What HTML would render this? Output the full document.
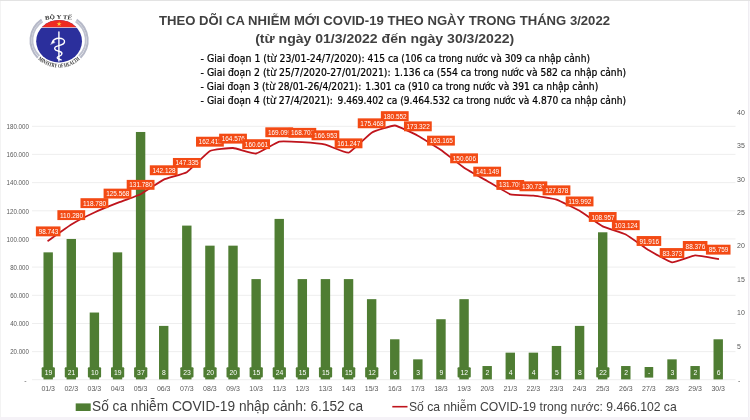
<!DOCTYPE html>
<html lang="vi"><head><meta charset="utf-8"><title>COVID-19 3/2022</title>
<style>html,body{margin:0;padding:0;background:#fff}svg{display:block}</style></head><body>
<svg width="750" height="420" viewBox="0 0 750 420">
<rect width="750" height="420" fill="#ffffff"/>
<rect x="0" y="0" width="750" height="1" fill="#e3e3e3"/>
<rect x="0" y="1" width="1" height="416" fill="#f3f3f3"/>
<rect x="0" y="417" width="750" height="3" fill="#f5f2f7"/>
<rect x="748" y="1" width="1" height="416" fill="#efedf2"/>
<rect x="749" y="1" width="1" height="416" fill="#f8f7fa"/>
<g stroke="#ececec" stroke-width="0.9">
<line x1="32" x2="735.5" y1="379.7" y2="379.7"/>
<line x1="32" x2="735.5" y1="351.6" y2="351.6"/>
<line x1="32" x2="735.5" y1="323.5" y2="323.5"/>
<line x1="32" x2="735.5" y1="295.3" y2="295.3"/>
<line x1="32" x2="735.5" y1="267.1" y2="267.1"/>
<line x1="32" x2="735.5" y1="238.9" y2="238.9"/>
<line x1="32" x2="735.5" y1="210.8" y2="210.8"/>
<line x1="32" x2="735.5" y1="182.6" y2="182.6"/>
<line x1="32" x2="735.5" y1="154.4" y2="154.4"/>
<line x1="32" x2="735.5" y1="126.3" y2="126.3"/>
</g>
<g font-family="'Liberation Sans', sans-serif" font-size="7" fill="#595959" text-anchor="end">
<text x="28.9" y="354.3" textLength="18.7" lengthAdjust="spacingAndGlyphs">20.000</text>
<text x="28.9" y="326.2" textLength="18.7" lengthAdjust="spacingAndGlyphs">40.000</text>
<text x="28.9" y="298.0" textLength="18.7" lengthAdjust="spacingAndGlyphs">60.000</text>
<text x="28.9" y="269.8" textLength="18.7" lengthAdjust="spacingAndGlyphs">80.000</text>
<text x="28.9" y="241.6" textLength="22.3" lengthAdjust="spacingAndGlyphs">100.000</text>
<text x="28.9" y="213.5" textLength="22.3" lengthAdjust="spacingAndGlyphs">120.000</text>
<text x="28.9" y="185.3" textLength="22.3" lengthAdjust="spacingAndGlyphs">140.000</text>
<text x="28.9" y="157.1" textLength="22.3" lengthAdjust="spacingAndGlyphs">160.000</text>
<text x="28.9" y="129.0" textLength="22.3" lengthAdjust="spacingAndGlyphs">180.000</text>
<text x="26.5" y="382.8">-</text>
</g>
<g font-family="'Liberation Sans', sans-serif" font-size="7" fill="#595959" text-anchor="start">
<text x="737.1" y="348.8">5</text>
<text x="737.1" y="315.3">10</text>
<text x="737.1" y="281.9">15</text>
<text x="737.1" y="248.4">20</text>
<text x="737.1" y="215.0">25</text>
<text x="737.1" y="181.6">30</text>
<text x="737.1" y="148.1">35</text>
<text x="737.1" y="114.7">40</text>
<text x="738" y="382.8">-</text>
</g>
<g fill="#4f7d33">
<rect x="43.48" y="252.35" width="9.4" height="127.05"/>
<rect x="66.58" y="238.97" width="9.4" height="140.43"/>
<rect x="89.69" y="312.53" width="9.4" height="66.87"/>
<rect x="112.80" y="252.35" width="9.4" height="127.05"/>
<rect x="135.90" y="131.98" width="9.4" height="247.42"/>
<rect x="159.01" y="325.90" width="9.4" height="53.50"/>
<rect x="182.11" y="225.60" width="9.4" height="153.80"/>
<rect x="205.22" y="245.66" width="9.4" height="133.74"/>
<rect x="228.32" y="245.66" width="9.4" height="133.74"/>
<rect x="251.43" y="279.09" width="9.4" height="100.31"/>
<rect x="274.53" y="218.91" width="9.4" height="160.49"/>
<rect x="297.63" y="279.09" width="9.4" height="100.31"/>
<rect x="320.74" y="279.09" width="9.4" height="100.31"/>
<rect x="343.85" y="279.09" width="9.4" height="100.31"/>
<rect x="366.95" y="299.16" width="9.4" height="80.24"/>
<rect x="390.06" y="339.28" width="9.4" height="40.12"/>
<rect x="413.16" y="359.34" width="9.4" height="20.06"/>
<rect x="436.27" y="319.22" width="9.4" height="60.18"/>
<rect x="459.37" y="299.16" width="9.4" height="80.24"/>
<rect x="482.48" y="366.03" width="9.4" height="13.37"/>
<rect x="505.58" y="352.65" width="9.4" height="26.75"/>
<rect x="528.68" y="352.65" width="9.4" height="26.75"/>
<rect x="551.79" y="345.96" width="9.4" height="33.44"/>
<rect x="574.89" y="325.90" width="9.4" height="53.50"/>
<rect x="598.00" y="232.29" width="9.4" height="147.11"/>
<rect x="621.10" y="366.03" width="9.4" height="13.37"/>
<rect x="667.31" y="359.34" width="9.4" height="20.06"/>
<rect x="690.42" y="366.03" width="9.4" height="13.37"/>
<rect x="713.52" y="339.28" width="9.4" height="40.12"/>
</g>
<g font-family="'Liberation Sans', sans-serif" font-size="6.8" fill="#ffffff" text-anchor="middle">
<rect x="41.68" y="367.2" width="13.2" height="10.3" rx="1" fill="#4f7d33"/>
<text x="48.48" y="375.1">19</text>
<rect x="64.78" y="367.2" width="13.2" height="10.3" rx="1" fill="#4f7d33"/>
<text x="71.58" y="375.1">21</text>
<rect x="87.89" y="367.2" width="13.2" height="10.3" rx="1" fill="#4f7d33"/>
<text x="94.69" y="375.1">10</text>
<rect x="111.00" y="367.2" width="13.2" height="10.3" rx="1" fill="#4f7d33"/>
<text x="117.80" y="375.1">19</text>
<rect x="134.10" y="367.2" width="13.2" height="10.3" rx="1" fill="#4f7d33"/>
<text x="140.90" y="375.1">37</text>
<text x="164.01" y="375.1">8</text>
<rect x="180.31" y="367.2" width="13.2" height="10.3" rx="1" fill="#4f7d33"/>
<text x="187.11" y="375.1">23</text>
<rect x="203.42" y="367.2" width="13.2" height="10.3" rx="1" fill="#4f7d33"/>
<text x="210.22" y="375.1">20</text>
<rect x="226.52" y="367.2" width="13.2" height="10.3" rx="1" fill="#4f7d33"/>
<text x="233.32" y="375.1">20</text>
<rect x="249.62" y="367.2" width="13.2" height="10.3" rx="1" fill="#4f7d33"/>
<text x="256.43" y="375.1">15</text>
<rect x="272.73" y="367.2" width="13.2" height="10.3" rx="1" fill="#4f7d33"/>
<text x="279.53" y="375.1">24</text>
<rect x="295.83" y="367.2" width="13.2" height="10.3" rx="1" fill="#4f7d33"/>
<text x="302.63" y="375.1">15</text>
<rect x="318.94" y="367.2" width="13.2" height="10.3" rx="1" fill="#4f7d33"/>
<text x="325.74" y="375.1">15</text>
<rect x="342.05" y="367.2" width="13.2" height="10.3" rx="1" fill="#4f7d33"/>
<text x="348.85" y="375.1">15</text>
<rect x="365.15" y="367.2" width="13.2" height="10.3" rx="1" fill="#4f7d33"/>
<text x="371.95" y="375.1">12</text>
<text x="395.06" y="375.1">6</text>
<text x="418.16" y="375.1">3</text>
<text x="441.27" y="375.1">9</text>
<rect x="457.57" y="367.2" width="13.2" height="10.3" rx="1" fill="#4f7d33"/>
<text x="464.37" y="375.1">12</text>
<text x="487.48" y="375.1">2</text>
<text x="510.58" y="375.1">4</text>
<text x="533.68" y="375.1">4</text>
<text x="556.79" y="375.1">5</text>
<text x="579.89" y="375.1">8</text>
<rect x="596.20" y="367.2" width="13.2" height="10.3" rx="1" fill="#4f7d33"/>
<text x="603.00" y="375.1">22</text>
<text x="626.10" y="375.1">2</text>
<rect x="644.61" y="367" width="8.6" height="10.6" fill="#4f7d33"/>
<text x="649.21" y="375.1">-</text>
<text x="672.31" y="375.1">3</text>
<text x="695.42" y="375.1">2</text>
<text x="718.52" y="375.1">6</text>
</g>
<g font-family="'Liberation Sans', sans-serif" font-size="7" fill="#595959" text-anchor="middle">
<text x="48.18" y="390.9" textLength="13.6" lengthAdjust="spacingAndGlyphs">01/3</text>
<text x="71.28" y="390.9" textLength="13.6" lengthAdjust="spacingAndGlyphs">02/3</text>
<text x="94.39" y="390.9" textLength="13.6" lengthAdjust="spacingAndGlyphs">03/3</text>
<text x="117.50" y="390.9" textLength="13.6" lengthAdjust="spacingAndGlyphs">04/3</text>
<text x="140.60" y="390.9" textLength="13.6" lengthAdjust="spacingAndGlyphs">05/3</text>
<text x="163.71" y="390.9" textLength="13.6" lengthAdjust="spacingAndGlyphs">06/3</text>
<text x="186.81" y="390.9" textLength="13.6" lengthAdjust="spacingAndGlyphs">07/3</text>
<text x="209.92" y="390.9" textLength="13.6" lengthAdjust="spacingAndGlyphs">08/3</text>
<text x="233.02" y="390.9" textLength="13.6" lengthAdjust="spacingAndGlyphs">09/3</text>
<text x="256.12" y="390.9" textLength="13.6" lengthAdjust="spacingAndGlyphs">10/3</text>
<text x="279.23" y="390.9" textLength="13.6" lengthAdjust="spacingAndGlyphs">11/3</text>
<text x="302.33" y="390.9" textLength="13.6" lengthAdjust="spacingAndGlyphs">12/3</text>
<text x="325.44" y="390.9" textLength="13.6" lengthAdjust="spacingAndGlyphs">13/3</text>
<text x="348.55" y="390.9" textLength="13.6" lengthAdjust="spacingAndGlyphs">14/3</text>
<text x="371.65" y="390.9" textLength="13.6" lengthAdjust="spacingAndGlyphs">15/3</text>
<text x="394.75" y="390.9" textLength="13.6" lengthAdjust="spacingAndGlyphs">16/3</text>
<text x="417.86" y="390.9" textLength="13.6" lengthAdjust="spacingAndGlyphs">17/3</text>
<text x="440.97" y="390.9" textLength="13.6" lengthAdjust="spacingAndGlyphs">18/3</text>
<text x="464.07" y="390.9" textLength="13.6" lengthAdjust="spacingAndGlyphs">19/3</text>
<text x="487.18" y="390.9" textLength="13.6" lengthAdjust="spacingAndGlyphs">20/3</text>
<text x="510.28" y="390.9" textLength="13.6" lengthAdjust="spacingAndGlyphs">21/3</text>
<text x="533.38" y="390.9" textLength="13.6" lengthAdjust="spacingAndGlyphs">22/3</text>
<text x="556.49" y="390.9" textLength="13.6" lengthAdjust="spacingAndGlyphs">23/3</text>
<text x="579.59" y="390.9" textLength="13.6" lengthAdjust="spacingAndGlyphs">24/3</text>
<text x="602.70" y="390.9" textLength="13.6" lengthAdjust="spacingAndGlyphs">25/3</text>
<text x="625.80" y="390.9" textLength="13.6" lengthAdjust="spacingAndGlyphs">26/3</text>
<text x="648.91" y="390.9" textLength="13.6" lengthAdjust="spacingAndGlyphs">27/3</text>
<text x="672.01" y="390.9" textLength="13.6" lengthAdjust="spacingAndGlyphs">28/3</text>
<text x="695.12" y="390.9" textLength="13.6" lengthAdjust="spacingAndGlyphs">29/3</text>
<text x="718.22" y="390.9" textLength="13.6" lengthAdjust="spacingAndGlyphs">30/3</text>
</g>
<path d="M48.18,240.72 C49.45,239.83 68.74,226.02 71.28,224.47 C73.83,222.92 91.85,213.68 94.39,212.50 C96.93,211.31 114.95,203.94 117.50,202.94 C120.04,201.93 138.06,195.47 140.60,194.19 C143.14,192.91 161.16,180.82 163.71,179.61 C166.25,178.41 184.27,173.85 186.81,172.28 C189.35,170.71 207.37,152.38 209.92,151.04 C212.46,149.71 230.48,147.86 233.02,147.99 C235.56,148.13 253.58,153.86 256.12,153.51 C258.67,153.16 276.69,142.25 279.23,141.62 C281.77,141.00 299.79,142.02 302.33,142.18 C304.88,142.35 322.90,144.07 325.44,144.65 C327.98,145.22 346.00,153.34 348.55,152.68 C351.09,152.02 369.11,134.15 371.65,132.65 C374.19,131.16 392.21,125.33 394.75,125.49 C397.30,125.66 415.32,134.33 417.86,135.68 C420.40,137.02 438.42,148.22 440.97,149.98 C443.51,151.74 461.53,165.97 464.07,167.67 C466.61,169.38 484.63,179.53 487.18,180.99 C489.72,182.46 507.74,193.48 510.28,194.29 C512.82,195.09 530.84,195.37 533.38,195.67 C535.93,195.96 553.95,198.85 556.49,199.68 C559.03,200.52 577.05,209.33 579.59,210.79 C582.14,212.26 600.16,225.03 602.70,226.33 C605.24,227.64 623.26,233.23 625.80,234.55 C628.35,235.87 646.37,248.81 648.91,250.34 C651.45,251.87 669.47,262.09 672.01,262.37 C674.56,262.64 692.58,255.51 695.12,255.32 C697.66,255.14 716.95,258.81 718.22,259.01" fill="none" stroke="#bf141c" stroke-width="1.8" stroke-linecap="round" stroke-linejoin="round"/>
<g font-family="'Liberation Sans', sans-serif" font-size="6.4" fill="#ffffff" text-anchor="middle">
<rect x="35.88" y="226.42" width="24.6" height="9.9" fill="#f34a14"/>
<text x="48.48" y="233.92" textLength="19.6" lengthAdjust="spacingAndGlyphs">98.743</text>
<rect x="57.38" y="210.17" width="27.8" height="9.9" fill="#f34a14"/>
<text x="71.58" y="217.67" textLength="23.2" lengthAdjust="spacingAndGlyphs">110.280</text>
<rect x="80.49" y="198.20" width="27.8" height="9.9" fill="#f34a14"/>
<text x="94.69" y="205.70" textLength="23.2" lengthAdjust="spacingAndGlyphs">118.780</text>
<rect x="103.59" y="188.64" width="27.8" height="9.9" fill="#f34a14"/>
<text x="117.80" y="196.14" textLength="23.2" lengthAdjust="spacingAndGlyphs">125.568</text>
<rect x="126.70" y="179.89" width="27.8" height="9.9" fill="#f34a14"/>
<text x="140.90" y="187.39" textLength="23.2" lengthAdjust="spacingAndGlyphs">131.780</text>
<rect x="149.81" y="165.31" width="27.8" height="9.9" fill="#f34a14"/>
<text x="164.01" y="172.81" textLength="23.2" lengthAdjust="spacingAndGlyphs">142.128</text>
<rect x="172.91" y="157.98" width="27.8" height="9.9" fill="#f34a14"/>
<text x="187.11" y="165.48" textLength="23.2" lengthAdjust="spacingAndGlyphs">147.335</text>
<rect x="196.02" y="136.74" width="27.8" height="9.9" fill="#f34a14"/>
<text x="210.22" y="144.24" textLength="23.2" lengthAdjust="spacingAndGlyphs">162.413</text>
<rect x="219.12" y="133.69" width="27.8" height="9.9" fill="#f34a14"/>
<text x="233.32" y="141.19" textLength="23.2" lengthAdjust="spacingAndGlyphs">164.576</text>
<rect x="242.22" y="139.21" width="27.8" height="9.9" fill="#f34a14"/>
<text x="256.43" y="146.71" textLength="23.2" lengthAdjust="spacingAndGlyphs">160.661</text>
<rect x="265.33" y="127.32" width="27.8" height="9.9" fill="#f34a14"/>
<text x="279.53" y="134.82" textLength="23.2" lengthAdjust="spacingAndGlyphs">169.099</text>
<rect x="288.44" y="127.88" width="27.8" height="9.9" fill="#f34a14"/>
<text x="302.63" y="135.38" textLength="23.2" lengthAdjust="spacingAndGlyphs">168.703</text>
<rect x="311.54" y="130.35" width="27.8" height="9.9" fill="#f34a14"/>
<text x="325.74" y="137.85" textLength="23.2" lengthAdjust="spacingAndGlyphs">166.953</text>
<rect x="334.65" y="138.38" width="27.8" height="9.9" fill="#f34a14"/>
<text x="348.85" y="145.88" textLength="23.2" lengthAdjust="spacingAndGlyphs">161.247</text>
<rect x="357.75" y="118.35" width="27.8" height="9.9" fill="#f34a14"/>
<text x="371.95" y="125.85" textLength="23.2" lengthAdjust="spacingAndGlyphs">175.468</text>
<rect x="380.86" y="111.19" width="27.8" height="9.9" fill="#f34a14"/>
<text x="395.06" y="118.69" textLength="23.2" lengthAdjust="spacingAndGlyphs">180.552</text>
<rect x="403.96" y="121.38" width="27.8" height="9.9" fill="#f34a14"/>
<text x="418.16" y="128.88" textLength="23.2" lengthAdjust="spacingAndGlyphs">173.322</text>
<rect x="427.07" y="135.68" width="27.8" height="9.9" fill="#f34a14"/>
<text x="441.27" y="143.18" textLength="23.2" lengthAdjust="spacingAndGlyphs">163.165</text>
<rect x="450.17" y="153.37" width="27.8" height="9.9" fill="#f34a14"/>
<text x="464.37" y="160.87" textLength="23.2" lengthAdjust="spacingAndGlyphs">150.606</text>
<rect x="473.28" y="166.69" width="27.8" height="9.9" fill="#f34a14"/>
<text x="487.48" y="174.19" textLength="23.2" lengthAdjust="spacingAndGlyphs">141.149</text>
<rect x="496.38" y="179.99" width="27.8" height="9.9" fill="#f34a14"/>
<text x="510.58" y="187.49" textLength="23.2" lengthAdjust="spacingAndGlyphs">131.709</text>
<rect x="519.49" y="181.37" width="27.8" height="9.9" fill="#f34a14"/>
<text x="533.68" y="188.87" textLength="23.2" lengthAdjust="spacingAndGlyphs">130.731</text>
<rect x="542.59" y="185.38" width="27.8" height="9.9" fill="#f34a14"/>
<text x="556.79" y="192.88" textLength="23.2" lengthAdjust="spacingAndGlyphs">127.878</text>
<rect x="565.69" y="196.49" width="27.8" height="9.9" fill="#f34a14"/>
<text x="579.89" y="203.99" textLength="23.2" lengthAdjust="spacingAndGlyphs">119.992</text>
<rect x="588.80" y="212.03" width="27.8" height="9.9" fill="#f34a14"/>
<text x="603.00" y="219.53" textLength="23.2" lengthAdjust="spacingAndGlyphs">108.957</text>
<rect x="611.90" y="220.25" width="27.8" height="9.9" fill="#f34a14"/>
<text x="626.10" y="227.75" textLength="23.2" lengthAdjust="spacingAndGlyphs">103.124</text>
<rect x="636.61" y="236.04" width="24.6" height="9.9" fill="#f34a14"/>
<text x="649.21" y="243.54" textLength="19.6" lengthAdjust="spacingAndGlyphs">91.916</text>
<rect x="659.72" y="248.07" width="24.6" height="9.9" fill="#f34a14"/>
<text x="672.31" y="255.57" textLength="19.6" lengthAdjust="spacingAndGlyphs">83.373</text>
<rect x="682.82" y="241.02" width="24.6" height="9.9" fill="#f34a14"/>
<text x="695.42" y="248.52" textLength="19.6" lengthAdjust="spacingAndGlyphs">88.376</text>
<rect x="705.92" y="244.71" width="24.6" height="9.9" fill="#f34a14"/>
<text x="718.52" y="252.21" textLength="19.6" lengthAdjust="spacingAndGlyphs">85.759</text>
</g>
<rect x="75.7" y="403.4" width="15" height="7.6" fill="#4f7d33"/>
<text x="92" y="411" font-family="'Liberation Sans', sans-serif" font-size="14" fill="#404040" textLength="271" lengthAdjust="spacingAndGlyphs">Số ca nhiễm COVID-19 nhập cảnh: 6.152 ca</text>
<line x1="392.3" x2="407.5" y1="406.7" y2="406.7" stroke="#bf141c" stroke-width="1.6"/>
<text x="409" y="410.8" font-family="'Liberation Sans', sans-serif" font-size="12.2" fill="#404040" textLength="267.7" lengthAdjust="spacingAndGlyphs">Số ca nhiễm COVID-19 trong nước: 9.466.102 ca</text>
<g font-family="'Liberation Sans', sans-serif" font-weight="bold" fill="#404040">
<text x="159" y="24.7" font-size="13.6" textLength="451" lengthAdjust="spacingAndGlyphs">THEO DÕI CA NHIỄM MỚI COVID-19 THEO NGÀY TRONG THÁNG 3/2022</text>
<text x="255.2" y="43.2" font-size="13.6" textLength="259" lengthAdjust="spacingAndGlyphs">(từ ngày 01/3/2022 đến ngày 30/3/2022)</text>
</g>
<g font-family="'DejaVu Sans Condensed', 'DejaVu Sans', sans-serif" font-size="11" fill="#000000" stroke="#000000" stroke-width="0.22">
<text x="200.6" y="61.7" textLength="164.0" lengthAdjust="spacingAndGlyphs">- Giai đoạn 1 (từ 23/01-24/7/2020):</text>
<text x="367.6" y="61.7" textLength="222.4" lengthAdjust="spacingAndGlyphs">415 ca (106 ca trong nước và 309 ca nhập cảnh)</text>
<text x="200.6" y="75.7" textLength="190.0" lengthAdjust="spacingAndGlyphs">- Giai đoạn 2 (từ 25/7/2020-27/01/2021):</text>
<text x="394.3" y="75.7" textLength="231.7" lengthAdjust="spacingAndGlyphs">1.136 ca (554 ca trong nước và 582 ca nhập cảnh)</text>
<text x="200.6" y="90.0" textLength="160.7" lengthAdjust="spacingAndGlyphs">- Giai đoạn 3 (từ 28/01-26/4/2021):</text>
<text x="365.3" y="90.0" textLength="233.0" lengthAdjust="spacingAndGlyphs">1.301 ca (910 ca trong nước và 391 ca nhập cảnh)</text>
<text x="200.6" y="103.8" textLength="132.4" lengthAdjust="spacingAndGlyphs">- Giai đoạn 4 (từ 27/4/2021):</text>
<text x="337.6" y="103.8" textLength="288.4" lengthAdjust="spacingAndGlyphs">9.469.402 ca (9.464.532 ca trong nước và 4.870 ca nhập cảnh)</text>
</g>
<g id="logo">
<g fill="none" stroke-linecap="butt">
<path d="M41.6,19.6 A27.5,25.8 0 0 0 37.8,57.8" stroke="#b6b9c8" stroke-width="2"/>
<path d="M76.6,19.6 A27.5,25.8 0 0 1 80.4,57.8" stroke="#b6b9c8" stroke-width="2"/>
<path d="M42.6,21.4 A24.7,23 0 0 0 39.4,56" stroke="#bfc2cf" stroke-width="1.8"/>
<path d="M75.6,21.4 A24.7,23 0 0 1 78.8,56" stroke="#bfc2cf" stroke-width="1.8"/>
</g>
<ellipse cx="59.1" cy="41.2" rx="22.9" ry="21.2" fill="#2b2f9c"/>
<clipPath id="topclip"><rect x="30" y="15" width="60" height="12.5"/></clipPath>
<ellipse cx="59.1" cy="41.2" rx="22.9" ry="21.2" fill="#ef2b22" clip-path="url(#topclip)"/>
<rect x="41" y="27.3" width="36.2" height="0.7" fill="#ffffff" opacity="0.9"/>
<polygon fill="#ffd23a" points="59.10,21.40 59.69,23.19 61.57,23.20 60.05,24.31 60.63,26.10 59.10,25.00 57.57,26.10 58.15,24.31 56.63,23.20 58.51,23.19"/>
<g fill="none" stroke="#ffffff" stroke-linecap="round" stroke-linejoin="round">
<path d="M58.9,32 L58.9,61" stroke-width="1.4"/>
<path d="M52.2,42.4 C53.2,40 55.6,38.4 58.8,38.3 C62.5,38.2 64.8,39.8 64.5,41.8 C64.2,44 61.5,45 58.8,45.6 C56,46.3 54.4,47.2 54.7,48.6 C55,50.2 57,50.8 58.8,51.2 C60.8,51.7 62.2,52.4 61.9,53.8 C61.6,55.2 60.2,55.9 58.8,56.4 C57.6,56.9 57,57.4 57.4,58.1 C57.9,58.9 59.8,59.2 61.1,59.9" stroke-width="1.4"/>
<path d="M50.8,44.2 L53.4,40.4 L54.8,42.2 Z" fill="#ffffff" stroke-width="0.4"/>
</g>
<path id="arcTop" d="M45.2,20 Q59,17.7 72.4,20" fill="none"/>
<path id="arcBot" d="M38,59.2 A30.9,30.9 0 0 0 80.4,59.2" fill="none"/>
<text font-family="'Liberation Serif', serif" font-weight="bold" font-size="5.8" fill="#333333"><textPath href="#arcTop" textLength="26.6" lengthAdjust="spacingAndGlyphs">BỘ Y TẾ</textPath></text>
<text font-family="'Liberation Serif', serif" font-weight="bold" font-size="5.8" fill="#333333"><textPath href="#arcBot" textLength="46" lengthAdjust="spacingAndGlyphs">MINISTRY OF HEALTH</textPath></text>
</g>

</svg>
</body></html>
